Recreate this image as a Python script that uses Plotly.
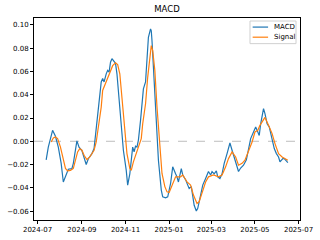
import plotly.graph_objects as go

macd_dates = [
    "2024-07-13", "2024-07-16", "2024-07-22", "2024-07-26", "2024-07-30", "2024-08-03", "2024-08-06",
    "2024-08-10", "2024-08-13", "2024-08-18", "2024-08-20", "2024-08-25", "2024-08-28", "2024-09-01",
    "2024-09-04", "2024-09-07", "2024-09-10", "2024-09-15", "2024-09-18", "2024-09-21", "2024-09-24",
    "2024-09-28", "2024-09-30", "2024-10-02", "2024-10-05", "2024-10-07", "2024-10-09", "2024-10-11",
    "2024-10-13", "2024-10-15", "2024-10-18", "2024-10-20", "2024-10-23", "2024-10-26", "2024-10-29",
    "2024-11-02", "2024-11-04", "2024-11-07", "2024-11-10", "2024-11-11", "2024-11-13", "2024-11-15",
    "2024-11-17", "2024-11-19", "2024-11-22", "2024-11-24", "2024-11-26", "2024-11-29", "2024-12-01",
    "2024-12-03", "2024-12-06", "2024-12-07", "2024-12-08", "2024-12-11", "2024-12-14", "2024-12-17",
    "2024-12-21", "2024-12-23", "2024-12-27", "2024-12-30", "2025-01-03", "2025-01-06", "2025-01-10",
    "2025-01-12", "2025-01-14", "2025-01-18", "2025-01-20", "2025-01-24", "2025-01-27", "2025-01-29",
    "2025-02-01", "2025-02-03", "2025-02-05", "2025-02-08", "2025-02-10", "2025-02-14", "2025-02-17",
    "2025-02-21", "2025-02-23", "2025-02-25", "2025-02-28", "2025-03-02", "2025-03-05", "2025-03-08",
    "2025-03-10", "2025-03-13", "2025-03-16", "2025-03-19", "2025-03-23", "2025-03-27", "2025-03-30",
    "2025-04-02", "2025-04-05", "2025-04-08", "2025-04-11", "2025-04-15", "2025-04-19", "2025-04-22",
    "2025-04-25", "2025-04-29", "2025-05-02", "2025-05-05", "2025-05-07", "2025-05-09", "2025-05-13",
    "2025-05-15", "2025-05-18", "2025-05-21", "2025-05-23", "2025-05-26", "2025-05-28", "2025-05-31",
    "2025-06-03", "2025-06-05", "2025-06-09", "2025-06-11", "2025-06-14", "2025-06-16",
]
macd_values = [
    -0.016, -0.005, 0.0094, 0.0043, -0.005, -0.019, -0.035,
    -0.028, -0.024, -0.0235, -0.019, 0.0003, -0.005, -0.008,
    -0.0135, -0.020, -0.015, -0.0106, -0.0063, 0.0094, 0.0266,
    0.051, 0.054, 0.051, 0.058, 0.061, 0.0595, 0.068,
    0.071, 0.0695, 0.067, 0.058, 0.038, 0.018, -0.0077,
    -0.025, -0.0377, -0.028, -0.0135, -0.005, -0.009, -0.0043,
    -0.005, 0.001, 0.018, 0.035, 0.045, 0.051, 0.0695,
    0.0894, 0.0966, 0.095, 0.0866, 0.055, 0.018, -0.0163,
    -0.042, -0.0478, -0.0486, -0.0478, -0.0363, -0.022, -0.028,
    -0.0306, -0.035, -0.0235, -0.029, -0.033, -0.0377, -0.0406,
    -0.039, -0.0463, -0.055, -0.060, -0.0577, -0.0463, -0.0377,
    -0.032, -0.028, -0.026, -0.029, -0.026, -0.028, -0.0255,
    -0.0306, -0.032, -0.028, -0.019, -0.0106, -0.0015, -0.0077,
    -0.0135, -0.020, -0.026, -0.023, -0.0206, -0.016, -0.0077,
    0.0023, 0.008, 0.0123, 0.008, 0.005, 0.015, 0.028,
    0.0237, 0.015, 0.0123, 0.0066, 0.0009, -0.0063, -0.0106,
    -0.0135, -0.0177, -0.0149, -0.0149, -0.0169, -0.0183,
]

signal_dates = [
    "2024-07-20", "2024-07-23", "2024-07-26", "2024-07-29", "2024-08-02", "2024-08-06", "2024-08-09",
    "2024-08-12", "2024-08-16", "2024-08-20", "2024-08-23", "2024-08-26", "2024-08-29", "2024-09-01",
    "2024-09-04", "2024-09-08", "2024-09-12", "2024-09-15", "2024-09-18", "2024-09-21", "2024-09-24",
    "2024-09-28", "2024-09-30", "2024-10-04", "2024-10-07", "2024-10-11", "2024-10-14", "2024-10-18",
    "2024-10-21", "2024-10-24", "2024-10-27", "2024-10-30", "2024-11-03", "2024-11-07", "2024-11-09",
    "2024-11-12", "2024-11-16", "2024-11-19", "2024-11-23", "2024-11-25", "2024-11-29", "2024-12-02",
    "2024-12-05", "2024-12-07", "2024-12-09", "2024-12-12", "2024-12-15", "2024-12-19", "2024-12-22",
    "2024-12-26", "2024-12-29", "2025-01-01", "2025-01-05", "2025-01-10", "2025-01-17", "2025-01-20",
    "2025-01-26", "2025-01-31", "2025-02-04", "2025-02-09", "2025-02-12", "2025-02-16", "2025-02-21",
    "2025-02-25", "2025-03-04", "2025-03-11", "2025-03-16", "2025-03-21", "2025-03-25", "2025-03-30",
    "2025-04-04", "2025-04-08", "2025-04-13", "2025-04-17", "2025-04-22", "2025-04-27", "2025-05-01",
    "2025-05-05", "2025-05-08", "2025-05-15", "2025-05-20", "2025-05-25", "2025-05-29", "2025-06-03",
    "2025-06-08", "2025-06-12", "2025-06-16",
]
signal_values = [
    -0.0006, 0.0029, 0.0037, 0.0023, -0.005, -0.0163, -0.0234,
    -0.0255, -0.025, -0.0234, -0.0163, -0.0092, -0.0063, -0.0077,
    -0.012, -0.0157, -0.0135, -0.0106, -0.0077, -0.0006, 0.0123,
    0.0294, 0.0437, 0.0495, 0.054, 0.0594, 0.065, 0.0675,
    0.066, 0.058, 0.038, 0.0123, -0.0106, -0.0234, -0.025,
    -0.0177, -0.0106, -0.005, 0.0023, 0.015, 0.0323, 0.055,
    0.0752, 0.0823, 0.078, 0.061, 0.0294, -0.0077, -0.0277,
    -0.039, -0.0435, -0.044, -0.038, -0.0306, -0.0306, -0.029,
    -0.035, -0.0377, -0.0463, -0.0535, -0.052, -0.0435, -0.035,
    -0.0306, -0.029, -0.0306, -0.029, -0.022, -0.0149, -0.0092,
    -0.0135, -0.0206, -0.019, -0.0163, -0.0092, -0.0006, 0.008,
    0.0094, 0.0137, 0.0205, 0.0137, 0.0066, -0.002, -0.0106,
    -0.0135, -0.0149, -0.0163,
]

x_tick_vals = ["2024-07-01", "2024-09-01", "2024-11-01", "2025-01-01", "2025-03-01", "2025-05-01", "2025-07-01"]
x_tick_text = ["2024-07", "2024-09", "2024-11", "2025-01", "2025-03", "2025-05", "2025-07"]
y_tick_vals = [-0.06, -0.04, -0.02, 0.0, 0.02, 0.04, 0.06, 0.08, 0.10]

series_names = ["MACD", "Signal"]
series_colors = ["#1f77b4", "#ff7f0e"]

font_family = "DejaVu Sans"

fig = go.Figure()
fig.add_hline(y=0, line=dict(color="#bdbdbd", width=1, dash="dash"), layer="below")
fig.add_trace(go.Scatter(x=macd_dates, y=macd_values, mode="lines", name=series_names[0],
                         line=dict(color=series_colors[0], width=1.2), showlegend=False))
fig.add_trace(go.Scatter(x=signal_dates, y=signal_values, mode="lines", name=series_names[1],
                         line=dict(color=series_colors[1], width=1.2), showlegend=False))

# matplotlib-style compact legend (upper right), drawn in paper coordinates
fig.add_shape(type="rect", xref="paper", yref="paper", x0=0.812, x1=0.985, y0=0.873, y1=0.985,
              line=dict(color="#d0d0d0", width=1), fillcolor="rgba(255,255,255,0.8)", layer="above")
legend_rows_y = [0.955, 0.905]
for name, color, yy in zip(series_names, series_colors, legend_rows_y):
    fig.add_shape(type="line", xref="paper", yref="paper", x0=0.822, x1=0.880, y0=yy, y1=yy,
                  line=dict(color=color, width=1.2), layer="above")
    fig.add_annotation(x=0.893, y=yy, xref="paper", yref="paper", text=name, showarrow=False,
                       xanchor="left", yanchor="middle", font=dict(size=7, color="black"))

fig.update_layout(
    width=320, height=240,
    margin=dict(l=34, r=20, t=18, b=20, autoexpand=False),
    paper_bgcolor="white", plot_bgcolor="white",
    font=dict(family=font_family, size=7, color="black"),
    title=dict(text="MACD", x=0.5, xref="paper", y=1 - 9 / 240, yref="container",
               xanchor="center", yanchor="middle", font=dict(size=8.5, color="black")),
    showlegend=False,
)
fig.update_xaxes(
    type="date", range=["2024-06-26", "2025-07-03"], automargin=False,
    tickvals=x_tick_vals, ticktext=x_tick_text,
    showgrid=False, zeroline=False, showline=True, mirror=True,
    linecolor="black", linewidth=0.8, ticks="outside", ticklen=3, tickcolor="black", tickwidth=0.8,
)
fig.update_yaxes(
    range=[-0.0677, 0.106], tickvals=y_tick_vals, tickformat=".2f", automargin=False,
    showgrid=False, zeroline=False, showline=True, mirror=True,
    linecolor="black", linewidth=0.8, ticks="outside", ticklen=3, tickcolor="black", tickwidth=0.8,
)

fig.write_html("out.html")
